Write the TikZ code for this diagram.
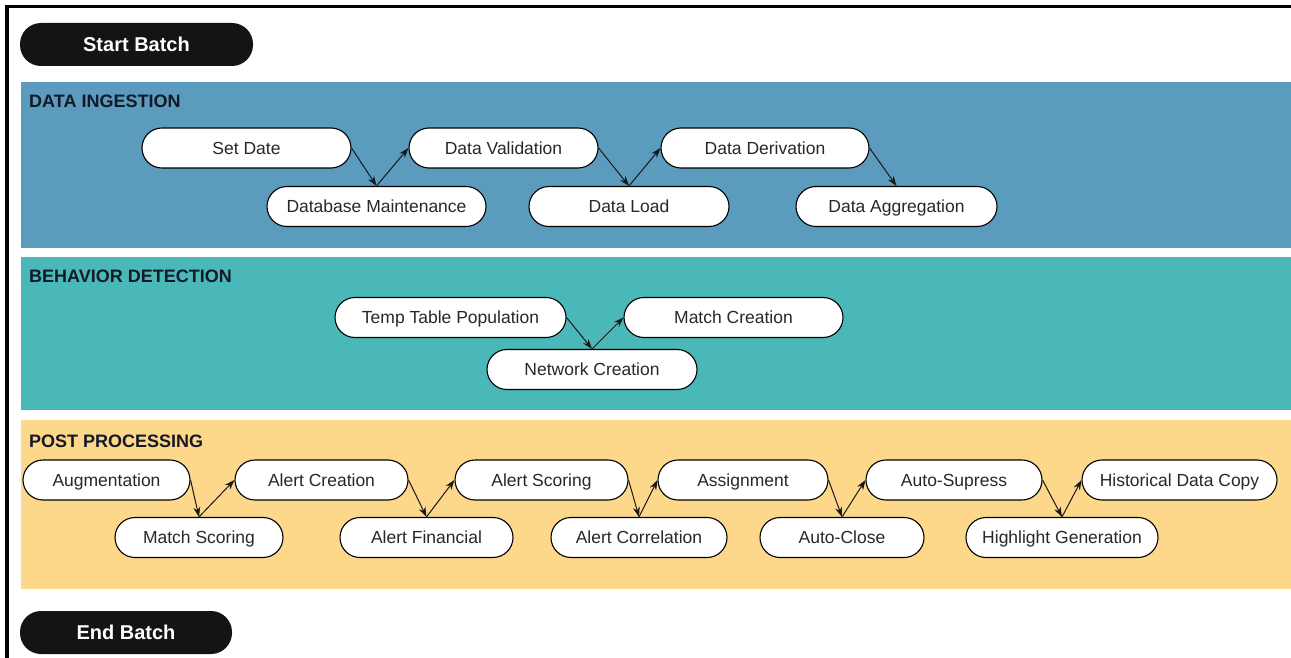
\documentclass[tikz,border=0pt]{standalone}
\usepackage{fontspec}
\setmainfont{Liberation Sans}
\usetikzlibrary{arrows.meta}
\definecolor{ingest}{RGB}{90,155,190}
\definecolor{behav}{RGB}{74,184,184}
\definecolor{post}{RGB}{253,215,138}
\definecolor{ink}{RGB}{40,40,40}
\definecolor{title}{RGB}{20,25,40}
\tikzset{
  proc/.style={draw=black, line width=1.1pt, fill=white, rounded corners=20pt,
    minimum height=40pt, inner sep=0pt, text=ink, text height=16pt, text depth=3.5pt,
    font=\fontsize{17.5}{20}\selectfont},
  term/.style={fill=black!92, rounded corners=21pt, minimum height=43pt,
    inner sep=0pt, text=white, text height=18.5pt, text depth=4pt,
    font=\bfseries\fontsize{20}{24}\selectfont},
  sectitle/.style={anchor=west, inner sep=0pt, text=title,
    font=\bfseries\fontsize{18}{21}\selectfont},
  flow/.style={draw=black!90, line width=1pt, -{Stealth[length=10pt,width=7pt]}},
}
\begin{document}
\begin{tikzpicture}[x=1pt,y=-1pt]
\useasboundingbox (0,0) rectangle (1291,658);
\fill[white] (0,0) rectangle (1291,658);
% frame
\draw[line width=3.5pt] (7,658) -- (7,6.5) -- (1291,6.5);
% panels
\fill[ingest] (21,82) rectangle (1291,248);
\fill[behav] (21,257) rectangle (1291,410);
\fill[post] (21,420) rectangle (1291,589);
% terminals
\node[term, minimum width=233pt] (start) at (136.5,44.5) {Start Batch};
\node[term, minimum width=212pt] (end) at (126,632.5) {End Batch};
% titles
\node[sectitle] (t1) at (29,101) {DATA INGESTION};
\node[sectitle] (t2) at (29,276) {BEHAVIOR DETECTION};
\node[sectitle] (t3) at (29,441) {POST PROCESSING};
% data ingestion
\node[proc, minimum width=209pt] (sd) at (246.5,148) {Set Date};
\node[proc, minimum width=219pt] (dm) at (376.5,206.5) {Database Maintenance};
\node[proc, minimum width=189pt] (dv) at (503.5,148) {Data Validation};
\node[proc, minimum width=200pt] (dl) at (629,206.5) {Data Load};
\node[proc, minimum width=208pt] (dd) at (765,148) {Data Derivation};
\node[proc, minimum width=201pt] (da) at (896.5,206.5) {Data Aggregation};
\draw[flow] (sd.east) -- (dm.north);
\draw[flow] (dm.north) -- (dv.west);
\draw[flow] (dv.east) -- (dl.north);
\draw[flow] (dl.north) -- (dd.west);
\draw[flow] (dd.east) -- (da.north);
% behavior detection
\node[proc, minimum width=231pt] (ttp) at (450.5,317.5) {Temp Table Population};
\node[proc, minimum width=210pt] (nc) at (592,369.5) {Network Creation};
\node[proc, minimum width=219pt] (mc) at (733.5,317.5) {Match Creation};
\draw[flow] (ttp.east) -- (nc.north);
\draw[flow] (nc.north) -- (mc.west);
% post processing
\node[proc, minimum width=167pt] (aug) at (106.5,480) {Augmentation};
\node[proc, minimum width=168pt] (ms) at (199,537.5) {Match Scoring};
\node[proc, minimum width=173pt] (ac) at (321.5,480) {Alert Creation};
\node[proc, minimum width=173pt] (af) at (426.5,537.5) {Alert Financial};
\node[proc, minimum width=173pt] (as) at (541.5,480) {Alert Scoring};
\node[proc, minimum width=176pt] (acr) at (639,537.5) {Alert Correlation};
\node[proc, minimum width=170pt] (asg) at (743,480) {Assignment};
\node[proc, minimum width=164pt] (acl) at (842,537.5) {Auto-Close};
\node[proc, minimum width=176pt] (asp) at (954,480) {Auto-Supress};
\node[proc, minimum width=192pt] (hg) at (1062,537.5) {Highlight Generation};
\node[proc, minimum width=195pt] (hdc) at (1179.5,480) {Historical Data Copy};
\draw[flow] (aug.east) -- (ms.north);
\draw[flow] (ms.north) -- (ac.west);
\draw[flow] (ac.east) -- (af.north);
\draw[flow] (af.north) -- (as.west);
\draw[flow] (as.east) -- (acr.north);
\draw[flow] (acr.north) -- (asg.west);
\draw[flow] (asg.east) -- (acl.north);
\draw[flow] (acl.north) -- (asp.west);
\draw[flow] (asp.east) -- (hg.north);
\draw[flow] (hg.north) -- (hdc.west);
\end{tikzpicture}
\end{document}
